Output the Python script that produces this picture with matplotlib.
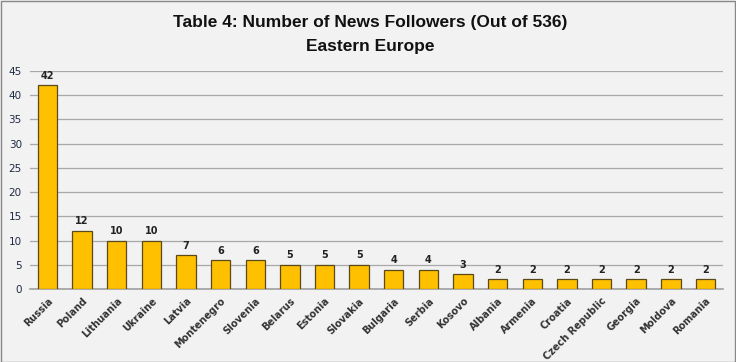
import matplotlib
matplotlib.use("Agg")
import matplotlib.pyplot as plt

countries = ["Russia", "Poland", "Lithuania", "Ukraine", "Latvia", "Montenegro", "Slovenia",
             "Belarus", "Estonia", "Slovakia", "Bulgaria", "Serbia", "Kosovo", "Albania",
             "Armenia", "Croatia", "Czech Republic", "Georgia", "Moldova", "Romania"]
values = [42, 12, 10, 10, 7, 6, 6, 5, 5, 5, 4, 4, 3, 2, 2, 2, 2, 2, 2, 2]
yticks = [0, 5, 10, 15, 20, 25, 30, 35, 40, 45]

bg = "#f2f2f2"
fig = plt.figure(figsize=(7.36, 3.62), dpi=100, facecolor=bg)
ax = fig.add_axes([0.041, 0.2017, 0.941, 0.6023], facecolor=bg)

x = list(range(len(countries)))
ax.bar(x, values, width=0.56, color="#FFC000", edgecolor="#5a4a1a", linewidth=0.9, zorder=3)
for xi, v in zip(x, values):
    ax.text(xi, v + 0.9, str(v), ha="center", va="bottom", fontsize=7, fontweight="bold",
            color="#222222", zorder=4)

ax.set_xlim(-0.5, len(countries) - 0.5)
ax.set_ylim(0, 45)
ax.set_yticks(yticks)
ax.set_yticklabels([str(t) for t in yticks], fontsize=7.5, color="#1f2a44")
ax.set_xticks(x)
ax.set_xticklabels(countries, rotation=45, ha="right", rotation_mode="anchor",
                   fontsize=7, fontweight="bold", color="#333333")
ax.tick_params(axis="y", length=0, pad=6)
ax.tick_params(axis="x", length=0, pad=5)
ax.grid(axis="y", color="#a8a8a8", linewidth=0.9, zorder=0)
for s in ["top", "right", "left"]:
    ax.spines[s].set_visible(False)
ax.spines["bottom"].set_color("#a0a0a0")
ax.spines["bottom"].set_linewidth(1.2)

fig.text(0.503, 0.938, "Table 4: Number of News Followers (Out of 536)", ha="center", va="center",
         fontsize=12.5, fontweight="bold", color="#111111", family="Liberation Sans")
fig.text(0.503, 0.872, "Eastern Europe", ha="center", va="center",
         fontsize=12.5, fontweight="bold", color="#111111", family="Liberation Sans")

border = plt.Rectangle((0.001, 0.001), 0.997, 0.997, transform=fig.transFigure, fill=False,
                       edgecolor="#888888", linewidth=1.0)
fig.patches.append(border)

fig.savefig("out.png", dpi=100, facecolor=bg)
